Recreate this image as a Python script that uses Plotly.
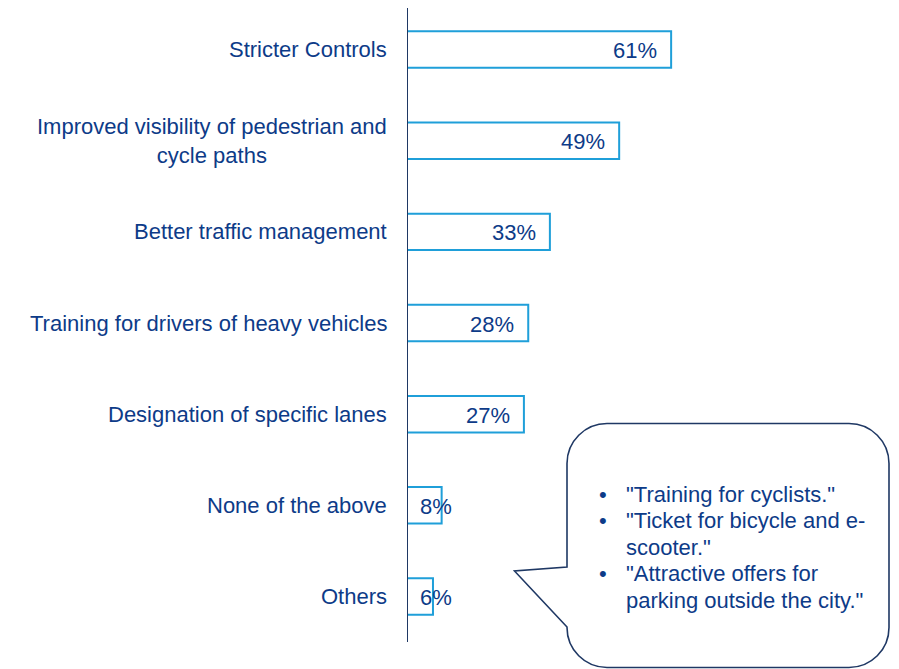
import plotly.graph_objects as go

# ---- data ----
categories = [
    "Stricter Controls",
    "Improved visibility of pedestrian and<br>cycle paths",
    "Better traffic management",
    "Training for drivers of heavy vehicles",
    "Designation of specific lanes",
    "None of the above",
    "Others",
]
values = [61, 49, 33, 28, 27, 8, 6]
value_labels = ["61%", "49%", "33%", "28%", "27%", "8%", "6%"]

bubble_lines = [
    ("•", '"Training for cyclists."'),
    ("•", '"Ticket for bicycle and e-'),
    ("", 'scooter."'),
    ("•", '"Attractive offers for'),
    ("", 'parking outside the city."'),
]

# ---- style / layout ----
OFF = 8  # page body margin offset
W, H = 899 - OFF, 669 - OFF
ML, MR, MT, MB = 399, 59, 0, 27
PW, PH = W - ML - MR, H - MT - MB
FONT = "Arial, Liberation Sans, sans-serif"
TEXT = "#0d3b88"
BAR_EDGE = "#1f9fd9"
NAVY = "#1f3864"
FS = 22
STEP = 91.14  # px per category


def px(x):  # page px -> paper
    return (x - OFF - ML) / PW


def py(y):
    return (H - MB - (y - OFF)) / PH


n = len(categories)
y_top = (n - 0.5) - PH / STEP

fig = go.Figure()
fig.add_trace(go.Bar(
    x=values, y=list(range(n)), orientation="h",
    marker=dict(color="white", line=dict(color=BAR_EDGE, width=2)),
    hoverinfo="skip", showlegend=False,
))

ann = []
for i, c in enumerate(categories):
    ann.append(dict(x=0, xref="paper", y=i, yref="y", text=c, showarrow=False,
                    xanchor="right", yanchor="middle", xshift=-18, align="center",
                    font=dict(family=FONT, size=FS, color=TEXT)))
for i, (v, t) in enumerate(zip(values, value_labels)):
    if v >= 15:
        ann.append(dict(x=v, xref="x", y=i, yref="y", text=t, showarrow=False,
                        xanchor="right", yanchor="middle", xshift=-12, yshift=-1,
                        font=dict(family=FONT, size=FS, color=TEXT)))
    else:
        ann.append(dict(x=0, xref="x", y=i, yref="y", text=t, showarrow=False,
                        xanchor="left", yanchor="middle", xshift=11, yshift=-1,
                        font=dict(family=FONT, size=FS, color=TEXT)))

# speech bubble (page pixel geometry)
L, R, T, B, r = 567, 889, 423.5, 667.5, 40
k = 0.5523 * r
tip = (514.5, 571)
join_top, join_bot = 567, 627


def P(x, y):
    return f"{px(x):.5f},{py(y):.5f}"


path = (
    f"M {P(L + r, T)} L {P(R - r, T)} "
    f"C {P(R - r + k, T)} {P(R, T + r - k)} {P(R, T + r)} "
    f"L {P(R, B - r)} "
    f"C {P(R, B - r + k)} {P(R - r + k, B)} {P(R - r, B)} "
    f"L {P(L + r, B)} "
    f"C {P(L + r - k, B)} {P(L, B - r + k)} {P(L, B - r)} "
    f"L {P(L, join_bot)} L {P(*tip)} L {P(L, join_top)} "
    f"L {P(L, T + r)} "
    f"C {P(L, T + r - k)} {P(L + r - k, T)} {P(L + r, T)} Z"
)
shapes = [
    dict(type="path", xref="paper", yref="paper", path=path,
         line=dict(color=NAVY, width=1.6), fillcolor="white", layer="above"),
    dict(type="line", xref="x", yref="paper", x0=0, x1=0, y0=0, y1=1,
         line=dict(color=NAVY, width=2), layer="above"),
]

base_baseline = 501.7
spacing = 26.6
for j, (b, t) in enumerate(bubble_lines):
    yc = base_baseline + j * spacing - 7.6
    if b:
        ann.append(dict(x=px(596.5), xref="paper", y=py(yc), yref="paper", text=b,
                        showarrow=False, xanchor="left", yanchor="middle",
                        font=dict(family=FONT, size=FS, color=TEXT)))
    ann.append(dict(x=px(624), xref="paper", y=py(yc), yref="paper", text=t,
                    showarrow=False, xanchor="left", yanchor="middle",
                    font=dict(family=FONT, size=FS, color=TEXT)))

fig.update_layout(
    width=W, height=H,
    margin=dict(l=ML, r=MR, t=MT, b=MB),
    paper_bgcolor="white", plot_bgcolor="white",
    bargap=0.6,
    xaxis=dict(range=[0, 100], visible=False, fixedrange=True),
    yaxis=dict(range=[n - 0.5, y_top], visible=False, fixedrange=True),
    annotations=ann, shapes=shapes, showlegend=False,
)

fig.write_html("out.html")
